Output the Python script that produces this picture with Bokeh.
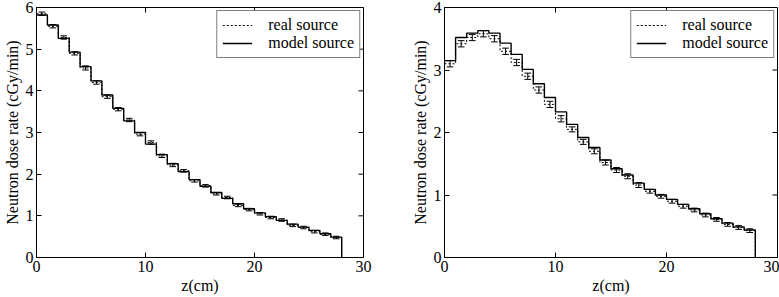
import math
from bokeh.plotting import figure
from bokeh.layouts import row
from bokeh.models import Legend, LegendItem, FixedTicker, Range1d
from bokeh.embed import file_html
from bokeh.resources import INLINE

# ---- data ----
bin_edges = list(range(29))  # 1 cm bins, 0..28 cm
bin_centers = [i + 0.5 for i in range(28)]

left_model = [5.82, 5.58, 5.26, 4.93, 4.58, 4.24, 3.90, 3.58, 3.28, 3.00,
              2.72, 2.47, 2.25, 2.06, 1.87, 1.71, 1.56, 1.42, 1.29, 1.17,
              1.07, 0.98, 0.89, 0.80, 0.73, 0.65, 0.57, 0.49]
left_real = [5.85, 5.55, 5.28, 4.90, 4.55, 4.20, 3.86, 3.56, 3.30, 2.96,
             2.76, 2.44, 2.22, 2.08, 1.84, 1.72, 1.53, 1.44, 1.25, 1.15,
             1.05, 0.96, 0.90, 0.77, 0.72, 0.62, 0.56, 0.48]
left_err = [0.04, 0.04, 0.04, 0.04, 0.05, 0.04, 0.04, 0.04, 0.04, 0.04,
            0.04, 0.04, 0.04, 0.03, 0.03, 0.03, 0.03, 0.03, 0.03, 0.03,
            0.03, 0.03, 0.03, 0.03, 0.03, 0.03, 0.03, 0.03]

right_model = [3.15, 3.52, 3.59, 3.63, 3.59, 3.43, 3.25, 3.01, 2.78, 2.56,
               2.33, 2.13, 1.92, 1.76, 1.56, 1.42, 1.32, 1.19, 1.09, 1.00,
               0.93, 0.85, 0.78, 0.70, 0.62, 0.55, 0.49, 0.44]
right_real = [3.10, 3.42, 3.52, 3.58, 3.50, 3.30, 3.12, 2.90, 2.68, 2.45,
              2.22, 2.05, 1.85, 1.70, 1.52, 1.40, 1.30, 1.16, 1.06, 0.98,
              0.90, 0.82, 0.76, 0.68, 0.61, 0.53, 0.48, 0.43]
right_err = [0.05, 0.05, 0.05, 0.05, 0.05, 0.05, 0.05, 0.05, 0.05, 0.05,
             0.05, 0.04, 0.04, 0.04, 0.04, 0.04, 0.04, 0.04, 0.03, 0.03,
             0.03, 0.03, 0.03, 0.03, 0.03, 0.03, 0.03, 0.03]

x_ticks = [0, 10, 20, 30]
left_y_ticks = [0, 1, 2, 3, 4, 5, 6]
right_y_ticks = [0, 1, 2, 3, 4]

FONT = "Liberation Serif"
XMAX = 30


def style_axis(ax):
    ax.major_tick_in = 5
    ax.major_tick_out = 0
    ax.minor_tick_in = 0
    ax.minor_tick_out = 0
    ax.axis_line_color = "black"
    ax.major_tick_line_color = "black"
    ax.major_label_text_font = FONT
    ax.major_label_text_font_size = "16px"
    ax.major_label_text_color = "black"
    ax.axis_label_text_font = FONT
    ax.axis_label_text_font_size = "16px"
    ax.axis_label_text_font_style = "normal"
    ax.axis_label_text_color = "black"
    ax.major_label_standoff = 3
    ax.axis_label_standoff = 2


def make_panel(width, height, ymax, yticks, model, real, err, borders):
    p = figure(width=width, height=height, output_backend="svg",
               toolbar_location=None, x_range=Range1d(0, XMAX),
               y_range=Range1d(0, ymax),
               min_border_left=borders[0], min_border_right=borders[1],
               min_border_top=borders[2], min_border_bottom=borders[3])
    p.xgrid.visible = False
    p.ygrid.visible = False
    p.outline_line_color = "black"
    p.background_fill_color = "white"
    p.border_fill_color = "white"

    p.xaxis.ticker = FixedTicker(ticks=x_ticks)
    p.yaxis.ticker = FixedTicker(ticks=yticks)
    p.xaxis.axis_label = "z(cm)"
    p.yaxis.axis_label = "Neutron dose rate (cGy/min)"
    style_axis(p.xaxis[0])
    style_axis(p.yaxis[0])

    # inward ticks on the top and right edges of the frame
    p.ray(x=[XMAX] * len(yticks), y=yticks, length=5, length_units="screen",
          angle=math.pi, line_color="black", line_width=1)
    p.ray(x=x_ticks, y=[ymax] * len(x_ticks), length=5, length_units="screen",
          angle=-math.pi / 2, line_color="black", line_width=1)

    xs = bin_edges + [bin_edges[-1]]
    r_real = p.step(xs, real + [real[-1], 0], mode="after",
                    line_color="black", line_width=1, line_dash="2 2")
    r_model = p.step(xs, model + [model[-1], 0], mode="after",
                     line_color="black", line_width=1.4)

    lo = [v - e for v, e in zip(real, err)]
    hi = [v + e for v, e in zip(real, err)]
    p.segment(bin_centers, lo, bin_centers, hi, line_color="black", line_width=1)
    cl = [c - 0.3 for c in bin_centers]
    cr = [c + 0.3 for c in bin_centers]
    p.segment(cl, lo, cr, lo, line_color="black", line_width=1)
    p.segment(cl, hi, cr, hi, line_color="black", line_width=1)

    legend = Legend(items=[LegendItem(label="real source", renderers=[r_real]),
                           LegendItem(label="model source", renderers=[r_model])],
                    location="top_right")
    legend.label_text_font = FONT
    legend.label_text_font_size = "16px"
    legend.label_text_color = "black"
    legend.border_line_color = "black"
    legend.border_line_width = 1
    legend.background_fill_alpha = 1
    legend.padding = 5
    legend.spacing = 0
    legend.margin = 3
    legend.glyph_width = 30
    legend.label_standoff = 16
    legend.label_height = 16
    legend.glyph_height = 16
    p.add_layout(legend)
    return p


p1 = make_panel(390, 297, 6, left_y_ticks, left_model, left_real, left_err,
                (28, 27, 7, 38))
p2 = make_panel(389, 297, 4, right_y_ticks, right_model, right_real, right_err,
                (54, 2, 6, 40))

layout = row(p1, p2)
open("out.html", "w").write(file_html(layout, INLINE))
